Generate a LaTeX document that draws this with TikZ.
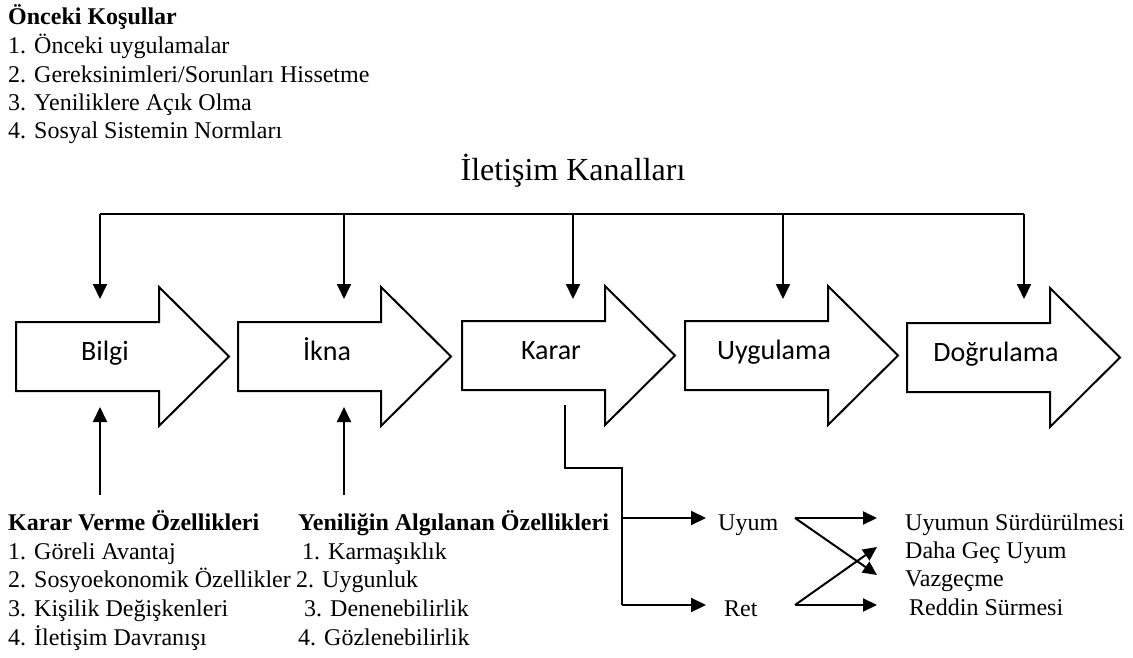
\documentclass[tikz,border=0pt]{standalone}
\usepackage{fontspec}
\setmainfont{Liberation Serif}
\newfontfamily\blockfont{Carlito}
\usetikzlibrary{arrows.meta}
\begin{document}
\begin{tikzpicture}[x=1pt,y=-1pt,
  flow/.style={line width=2pt},
  thinflow/.style={line width=1.3pt},
  tip/.style={-{Triangle[width=14pt,length=15pt]}},
  smalltip/.style={-{Triangle[width=13pt,length=14pt]}},
  blockshape/.style={draw,line width=2pt,miter limit=20,fill=white},
  blocklabel/.style={font=\blockfont\fontsize{28}{34}\selectfont,anchor=base,inner sep=0pt},
  listtext/.style={font=\fontsize{24}{29}\selectfont,anchor=base west,inner sep=0pt},
  listhead/.style={listtext,font=\bfseries\fontsize{24}{29}\selectfont},
  titletext/.style={font=\fontsize{32}{38}\selectfont,anchor=base,inner sep=0pt},
]
\useasboundingbox (0,0) rectangle (1133,658);

% antecedent conditions
\node[listhead] (ante0) at (8,25) {Önceki Koşullar};
\foreach \i/\yy/\t in {1/54/{1. Önceki uygulamalar},
                       2/83/{2. Gereksinimleri/Sorunları Hissetme},
                       3/111/{3. Yeniliklere Açık Olma},
                       4/139/{4. Sosyal Sistemin Normları}}
  \node[listtext] (ante\i) at (8,\yy) {\t};

% communication channels
\node[titletext] (channels) at (573,180) {İletişim Kanalları};

% the five stages as block arrows
\foreach \nm/\lx/\ty/\txt in {bilgi/16/322/Bilgi, ikna/238/322/İkna,
    karar/462/321/Karar, uyg/685/321/Uygulama, dog/907/323/Doğrulama}{
  \draw[blockshape] (\lx,\ty) -- ++(143,0) -- ++(0,-35) -- ++(70,69.5)
      -- ++(-70,69.5) -- ++(0,-35) -- ++(-143,0) -- cycle;
  \node[blocklabel] (\nm) at (\lx+89,\ty+38) {\txt};
}

% channel bus feeding every stage
\foreach \nm/\xx in {bilgi/100, ikna/344, karar/573, uyg/783, dog/1024}{
  \coordinate (\nm-top) at (\xx,214);
  \coordinate (\nm-in) at (\xx,299);
}
\draw[flow] (bilgi-top) -- (dog-top);
\foreach \nm in {bilgi, ikna, karar, uyg, dog}
  \draw[flow,tip] (\nm-top) -- (\nm-in);

% characteristics feeding knowledge and persuasion
\coordinate (dm-src) at (100,495);
\coordinate (dm-in) at (100,407);
\coordinate (pc-src) at (344,495);
\coordinate (pc-in) at (344,407);
\draw[flow,tip] (dm-src) -- (dm-in);
\draw[flow,tip] (pc-src) -- (pc-in);

\node[listhead] (dm0) at (8,530) {Karar Verme Özellikleri};
\foreach \i/\yy/\t in {1/559/{1. Göreli Avantaj},
                       2/587/{2. Sosyoekonomik Özellikler},
                       3/616/{3. Kişilik Değişkenleri},
                       4/645/{4. İletişim Davranışı}}
  \node[listtext] (dm\i) at (8,\yy) {\t};

\node[listhead] (pc0) at (298,530) {Yeniliğin Algılanan Özellikleri};
\foreach \i/\xx/\yy/\t in {1/302/559/{1. Karmaşıklık},
                           2/296/587/{2. Uygunluk},
                           3/304/616/{3. Denenebilirlik},
                           4/298/645/{4. Gözlenebilirlik}}
  \node[listtext] (pc\i) at (\xx,\yy) {\t};

% decision outcomes
\node[listtext] (uyum) at (718,530) {Uyum};
\node[listtext] (ret) at (724,616) {Ret};
\coordinate (dec-out) at (565,405);
\coordinate (dec-bend) at (565,468);
\coordinate (split-top) at (622,468);
\coordinate (split-uyum) at (622,518);
\coordinate (split-ret) at (622,605);
\coordinate (uyum-in) at (706,518);
\coordinate (ret-in) at (706,605);
\draw[thinflow] (dec-out) -- (dec-bend) -- (split-top) -- (split-ret);
\draw[flow,tip] (split-uyum) -- (uyum-in);
\draw[flow,tip] (split-ret) -- (ret-in);

% later outcomes
\node[listtext] (keep) at (905,530) {Uyumun Sürdürülmesi};
\node[listtext] (later) at (905,558) {Daha Geç Uyum};
\node[listtext] (quit) at (905,586) {Vazgeçme};
\node[listtext] (rejkeep) at (909,615) {Reddin Sürmesi};
\coordinate (uyum-out) at (795,518);
\coordinate (ret-out) at (795,605);
\coordinate (keep-in) at (877,518);
\coordinate (later-in) at (877,547);
\coordinate (quit-in) at (877,575);
\coordinate (rejkeep-in) at (877,605);
\draw[flow,smalltip] (uyum-out) -- (keep-in);
\draw[flow,smalltip] (uyum-out) -- (quit-in);
\draw[flow,smalltip] (ret-out) -- (later-in);
\draw[flow,smalltip] (ret-out) -- (rejkeep-in);
\end{tikzpicture}
\end{document}
